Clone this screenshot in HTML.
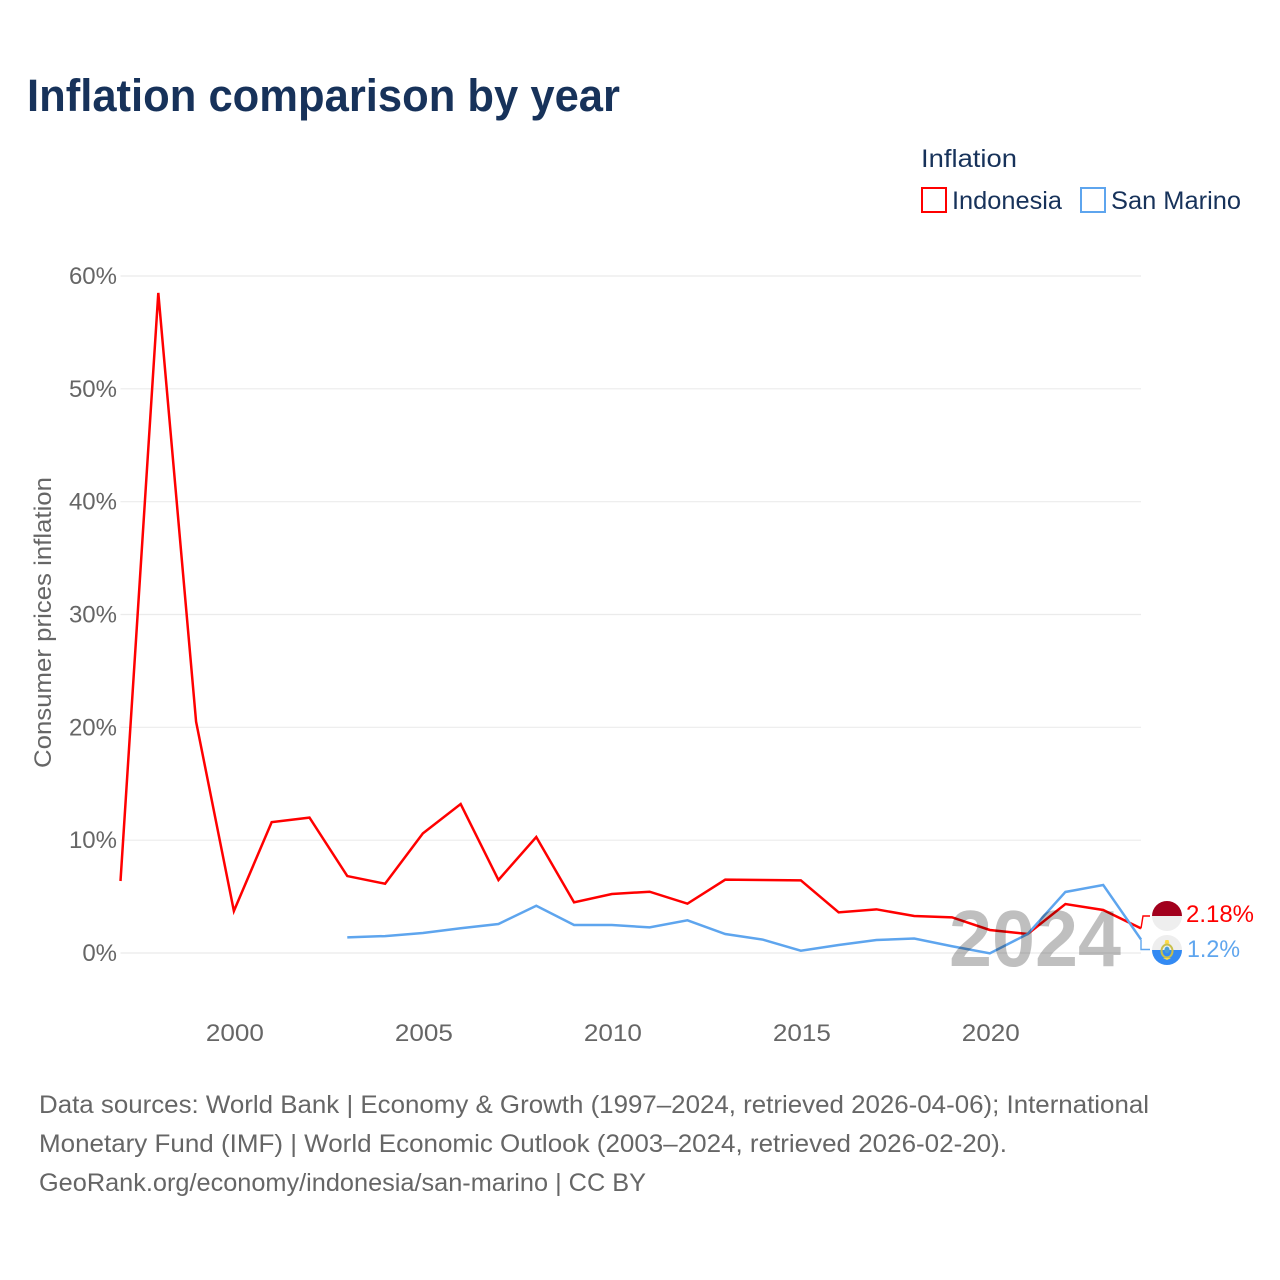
<!DOCTYPE html>
<html lang="en">
<head>
<meta charset="utf-8">
<title>Inflation comparison by year</title>
<style>
html,body{margin:0;padding:0;background:#fff;width:1280px;height:1280px;overflow:hidden}
svg{display:block}
text{font-family:"Liberation Sans",sans-serif}
</style>
</head>
<body>
<svg id="chart" xmlns="http://www.w3.org/2000/svg" width="1280" height="1280" viewBox="0 0 1280 1280">
  <rect width="1280" height="1280" fill="#fff"/>
  <text x="27" y="111" font-size="45" font-weight="700" fill="#17325a" textLength="593" lengthAdjust="spacingAndGlyphs">Inflation comparison by year</text>

  <g fill="#17325a" font-size="25">
    <text x="921" y="167" textLength="96" lengthAdjust="spacingAndGlyphs">Inflation</text>
    <g>
      <rect x="922" y="188" width="24" height="24" fill="#fff" stroke="#ff0000" stroke-width="2"/>
      <text x="952" y="209" textLength="110" lengthAdjust="spacingAndGlyphs">Indonesia</text>
    </g>
    <g>
      <rect x="1081" y="188" width="24" height="24" fill="#fff" stroke="#5ea5ee" stroke-width="2"/>
      <text x="1111" y="209" textLength="130" lengthAdjust="spacingAndGlyphs">San Marino</text>
    </g>
  </g>

  <text transform="translate(51 768) rotate(-90)" font-size="24" fill="#666" textLength="291" lengthAdjust="spacingAndGlyphs">Consumer prices inflation</text>

  <g id="grid"></g>
  <g id="yticks"></g>
  <g id="xticks"></g>
  <g id="series"></g>

  <text x="949" y="966" font-size="80" font-weight="700" fill="#000" fill-opacity="0.25" textLength="172" lengthAdjust="spacingAndGlyphs">2024</text>

  <g id="connectors"></g>

  <g>
    <circle cx="1167" cy="916" r="15" fill="#eeeeee"/>
    <path d="M1152 916a15 15 0 0 1 30 0z" fill="#a2001d"/>
  </g>
  <g>
    <circle cx="1167" cy="950" r="15" fill="#eeeeee"/>
    <path d="M1152 950a15 15 0 0 0 30 0z" fill="#338af3"/>
    <ellipse cx="1167" cy="951" rx="5.5" ry="6.5" fill="none" stroke="#c9c04a" stroke-width="2"/>
    <ellipse cx="1167" cy="950" rx="2.6" ry="3.4" fill="#4c9fd6"/>
    <path d="M1164.5 943.5h5l-1-3.5 h-3z" fill="#ffda44"/>
    <path d="M1163 958h8l-4 2z" fill="#ffda44"/>
  </g>

  <g id="endlabels" font-size="24"></g>

  <g font-size="25" fill="#666">
    <text x="39" y="1113" textLength="1110" lengthAdjust="spacingAndGlyphs">Data sources: World Bank | Economy &amp; Growth (1997–2024, retrieved 2026-04-06); International</text>
    <text x="39" y="1152" textLength="968" lengthAdjust="spacingAndGlyphs">Monetary Fund (IMF) | World Economic Outlook (2003–2024, retrieved 2026-02-20).</text>
    <text x="39" y="1191" textLength="607" lengthAdjust="spacingAndGlyphs">GeoRank.org/economy/indonesia/san-marino | CC BY</text>
  </g>
</svg>
<script>
const years = [1997,1998,1999,2000,2001,2002,2003,2004,2005,2006,2007,2008,2009,2010,2011,2012,2013,2014,2015,2016,2017,2018,2019,2020,2021,2022,2023,2024];
const indonesiaValues = [6.38,58.5,20.5,3.72,11.6,12.0,6.82,6.14,10.6,13.2,6.47,10.28,4.49,5.23,5.43,4.37,6.5,6.47,6.44,3.6,3.87,3.28,3.16,2.04,1.68,4.34,3.81,2.18];
const sanMarinoValues = [null,null,null,null,null,null,1.39,1.5,1.77,2.19,2.57,4.19,2.48,2.48,2.27,2.9,1.68,1.18,0.2,0.71,1.15,1.28,0.6,-0.03,1.68,5.41,6.03,1.2];
const yTickValues = [0,10,20,30,40,50,60];
const xTickValues = [2000,2005,2010,2015,2020];

const NS = 'http://www.w3.org/2000/svg';
const RED = '#ff0000';
const BLUE = '#5ea5ee';
const plotLeft = 120.5, plotRight = 1141, yZero = 953, yTop = 276;

function xScale(year) {
  return plotLeft + (year - years[0]) * (plotRight - plotLeft) / (years[years.length - 1] - years[0]);
}
function yScale(v) {
  return yZero - v * (yZero - yTop) / 60;
}
function make(tag, parent, attrs) {
  const el = document.createElementNS(NS, tag);
  Object.keys(attrs).forEach(function (k) { el.setAttribute(k, attrs[k]); });
  parent.appendChild(el);
  return el;
}
function linePath(values) {
  let d = '';
  values.forEach(function (v, i) {
    if (v === null) return;
    d += (d ? 'L' : 'M') + xScale(years[i]).toFixed(2) + ' ' + yScale(v).toFixed(2);
  });
  return d;
}

const grid = document.getElementById('grid');
const yticks = document.getElementById('yticks');
yTickValues.forEach(function (t) {
  const gl = make('line', grid, {x1: plotLeft, x2: plotRight, y1: yScale(t), y2: yScale(t), stroke: '#ebebeb', 'stroke-width': 1.2});
  
  
  const lbl = make('text', yticks, {x: 117, y: yScale(t) + 8, 'text-anchor': 'end', 'font-size': 24, fill: '#666'});
  
  
  lbl.textContent = t + '%';
});

const xticks = document.getElementById('xticks');
xTickValues.forEach(function (t) {
  const lbl = make('text', xticks, {x: xScale(t) + 1, y: 1041, 'text-anchor': 'middle', 'font-size': 24, fill: '#666', textLength: 58, lengthAdjust: 'spacingAndGlyphs'});
  
  
  lbl.textContent = t;
});

const series = document.getElementById('series');
const lineIndonesia = make('path', series, {d: linePath(indonesiaValues), fill: 'none', stroke: RED, 'stroke-width': 2.5, 'stroke-linejoin': 'miter'});


const lineSanMarino = make('path', series, {d: linePath(sanMarinoValues), fill: 'none', stroke: BLUE, 'stroke-width': 2.5, 'stroke-linejoin': 'miter'});



const endX = xScale(years[years.length - 1]);
const lastIndo = indonesiaValues[indonesiaValues.length - 1];
const lastSm = sanMarinoValues[sanMarinoValues.length - 1];

const connectors = document.getElementById('connectors');
const connIndo = make('path', connectors, {d: 'M' + endX + ' ' + yScale(lastIndo) + 'L' + (endX + 2) + ' 916H1150', fill: 'none', stroke: RED, 'stroke-width': 1.4});


const connSm = make('path', connectors, {d: 'M' + endX + ' ' + yScale(lastSm) + 'V949.5H1150', fill: 'none', stroke: BLUE, 'stroke-width': 1.4});



const endlabels = document.getElementById('endlabels');
const labelIndo = make('text', endlabels, {x: 1186, y: 922, fill: RED, textLength: 68, lengthAdjust: 'spacingAndGlyphs'});


labelIndo.textContent = lastIndo + '%';
const labelSm = make('text', endlabels, {x: 1187, y: 957, fill: BLUE, textLength: 53, lengthAdjust: 'spacingAndGlyphs'});


labelSm.textContent = lastSm + '%';
</script>
</body>
</html>
